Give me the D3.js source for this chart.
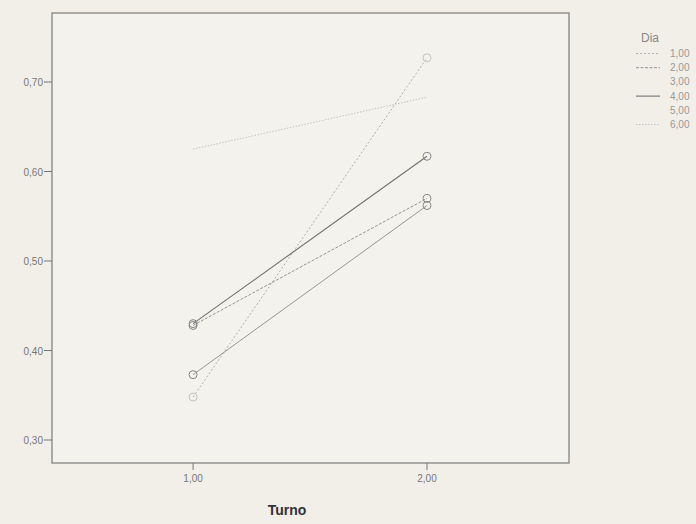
<!DOCTYPE html>
<html><head><meta charset="utf-8">
<script src="https://cdn.jsdelivr.net/npm/d3@7"></script>
<style>body{margin:0;background:#f2f0ea}svg{display:block}</style>
</head><body><svg id="c" width="696" height="524"></svg>
<script>
const turnos = [1, 2];
const dias = ["1,00","2,00","3,00","4,00","5,00","6,00"];
const dia1 = [0.348, 0.727];
const dia2 = [0.428, 0.570];
const dia3 = [0.373, 0.562];
const dia4 = [0.430, 0.617];
const dia5 = [0.373, 0.562];
const dia6 = [0.625, 0.683];
const yTicks = [0.30, 0.40, 0.50, 0.60, 0.70];
const xTicks = [1, 2];

const series = [
  {name:"1,00", v:dia1, dash:"2,2", color:"#a8a8a8", w:0.9, mark:[true,true]},
  {name:"2,00", v:dia2, dash:"3,1.5", color:"#8a8a8a", w:0.9, mark:[true,true]},
  {name:"3,00", v:dia3, dash:null, color:"#8c8c8c", w:0.9, mark:[true,true], noLegend:true},
  {name:"4,00", v:dia4, dash:null, color:"#707070", w:1.1, mark:[true,true]},
  {name:"5,00", v:dia5, dash:null, color:"#aaa", w:0, mark:[false,false], noLegend:true},
  {name:"6,00", v:dia6, dash:"1.5,1.5", color:"#bdbdbd", w:0.9, mark:[false,false]}
];

const svg = d3.select("#c");
const L=52, R=569, T=13, B=463;
const x = d3.scaleLinear().domain([0.397, 2.607]).range([L, R]);
const y = d3.scaleLinear().domain([0.30, 0.70]).range([440, 82]);

svg.append("rect").attr("width",696).attr("height",524).attr("fill","#f1efe8");
svg.append("rect").attr("x",L).attr("y",T).attr("width",R-L).attr("height",B-T)
  .attr("fill","#f3f2ed").attr("stroke","#7a7a7a").attr("stroke-width",1.2);

const font = "Liberation Sans, Arial, sans-serif";
yTicks.forEach(t=>{
  svg.append("line").attr("x1",L-8).attr("x2",L).attr("y1",y(t)).attr("y2",y(t)).attr("stroke","#777");
  svg.append("text").attr("x",L-9).attr("y",y(t)+4).attr("text-anchor","end")
    .attr("font-family",font).attr("font-size",10).attr("fill","#777").text(d3.format(".2f")(t).replace(".",","));
});
xTicks.forEach(t=>{
  svg.append("line").attr("x1",x(t)).attr("x2",x(t)).attr("y1",B).attr("y2",B+7).attr("stroke","#777");
  svg.append("text").attr("x",x(t)).attr("y",B+19).attr("text-anchor","middle")
    .attr("font-family",font).attr("font-size",10).attr("fill","#777").text(d3.format(".2f")(t).replace(".",","));
});
svg.append("text").attr("x",287).attr("y",515).attr("text-anchor","middle")
  .attr("font-family",font).attr("font-size",14).attr("font-weight","bold").attr("fill","#333").text("Turno");

const line = d3.line().x((d,i)=>x(turnos[i])).y(d=>y(d));
series.forEach(s=>{
  if(s.w>0){
    svg.append("path").attr("d",line(s.v)).attr("fill","none").attr("stroke",s.color)
      .attr("stroke-width",s.w).attr("stroke-dasharray",s.dash);
  }
  s.v.forEach((d,i)=>{
    if(s.mark[i]) svg.append("circle").attr("cx",x(turnos[i])).attr("cy",y(d)).attr("r",4)
      .attr("fill","none").attr("stroke", s.name==="1,00" ? "#c4c4c4" : "#888").attr("stroke-width",1);
  });
});

svg.append("text").attr("x",641).attr("y",42).attr("font-family",font).attr("font-size",12).attr("fill","#888").text("Dia");
series.forEach((s,i)=>{
  const yy = 57 + i*14.2;
  if(!s.noLegend && s.w>0){
    svg.append("line").attr("x1",636).attr("x2",660).attr("y1",yy-3.5).attr("y2",yy-3.5)
      .attr("stroke",s.color).attr("stroke-width",s.w).attr("stroke-dasharray",s.dash);
  }
  svg.append("text").attr("x",670).attr("y",yy).attr("font-family",font).attr("font-size",10)
    .attr("fill","#999").text(dias[i]);
});
</script></body></html>
